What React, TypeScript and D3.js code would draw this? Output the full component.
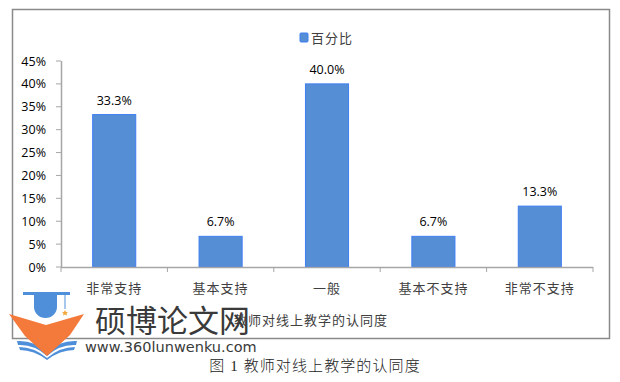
import React from "react";
import * as d3 from "d3";

const categories = ["非常支持", "基本支持", "一般", "基本不支持", "非常不支持"];
const values = [0.333, 0.067, 0.4, 0.067, 0.133];
const seriesName = "百分比";
const yTicks = [0, 0.05, 0.1, 0.15, 0.2, 0.25, 0.3, 0.35, 0.4, 0.45];
const axisTitle = "教师对线上教学的认同度";
const caption = "图 1 教师对线上教学的认同度";
const watermark = "硕博论文网";
const watermarkUrl = "www.360lunwenku.com";

const W = 620;
const H = 382;
const latin = "'Open Sans', 'Noto Sans', 'Noto Sans CJK SC', sans-serif";
const cjk = "'Noto Sans CJK SC', sans-serif";

export default function App() {
  const x = d3.scaleBand<string>().domain(categories).range([61, 593]).padding(0);
  const y = d3.scaleLinear().domain([0, 0.45]).range([267, 61]);
  const fmt = d3.format(".0%");
  const fmt1 = d3.format(".1%");
  const barW = x.bandwidth() * 0.405;
  const boundaries = categories.map((c) => x(c) as number).concat([593]);

  return (
    <svg width={W} height={H} style={{ position: "absolute", left: 0, top: 0, background: "#fff" }}>
      <rect x={12.5} y={9.5} width={597} height={329} fill="#fff" stroke="#8a8a8a" strokeWidth={1.5} />
      {/* legend */}
      <rect x={300} y={33} width={8} height={9} fill="#558ed5" stroke="#3f7ef2" strokeWidth={1} rx={1} />
      <text x={311} y={42.5} fontFamily={cjk} fontSize={13} fill="#404040" letterSpacing={1}>{seriesName}</text>
      {/* y axis */}
      <line x1={61.5} x2={61.5} y1={61} y2={267} stroke="#a6a6a6" strokeWidth={1.5} />
      {yTicks.map((t) => (
        <g key={t}>
          <line x1={56} x2={61} y1={y(t)} y2={y(t)} stroke="#a6a6a6" strokeWidth={1} />
          <text x={46} y={y(t) + 4.5} textAnchor="end" fontFamily={latin} fontSize={12.5} fill="#000">
            {fmt(t)}
          </text>
        </g>
      ))}
      {/* bars */}
      {categories.map((c, i) => {
        const cx = (x(c) as number) + x.bandwidth() / 2;
        return (
          <g key={c}>
            <rect
              x={cx - barW / 2}
              y={y(values[i])}
              width={barW}
              height={267 - y(values[i])}
              fill="#558ed5"
              stroke="#3f7ef2"
              strokeWidth={1}
            />
            <text x={cx} y={y(values[i]) - 10} textAnchor="middle" fontFamily={latin} fontSize={12.5} fill="#000">
              {fmt1(values[i])}
            </text>
            <text x={cx} y={293} textAnchor="middle" fontFamily={cjk} fontSize={13} fill="#404040" letterSpacing={1}>
              {c}
            </text>
          </g>
        );
      })}
      {/* x axis */}
      <line x1={61} x2={593} y1={267.5} y2={267.5} stroke="#a6a6a6" strokeWidth={1.5} />
      {boundaries.map((b, i) => (
        <line key={i} x1={b} x2={b} y1={267} y2={272} stroke="#a6a6a6" strokeWidth={1} />
      ))}
      <text x={311} y={325} textAnchor="middle" fontFamily={cjk} fontSize={13} fill="#404040" letterSpacing={1}>
        {axisTitle}
      </text>
      {/* caption */}
      <text x={315} y={371} textAnchor="middle" fontFamily="'Liberation Serif', 'Noto Sans CJK SC', serif" fontSize={15} fontWeight={300} fill="#222" letterSpacing={1.1}>
        {caption}
      </text>
      {/* watermark */}
      <g>
        <path d="M17,341 Q34,340 47,352 L47,356 Q34,344 18,345 Z" fill="#4f8fd9" />
        <path d="M77,341 Q60,340 47,352 L47,356 Q60,344 76,345 Z" fill="#4f8fd9" />
        <path d="M19,347 Q34,347 47,358 L47,360 Q34,350 20,350 Z" fill="#4f8fd9" />
        <path d="M75,347 Q60,347 47,358 L47,360 Q60,350 74,350 Z" fill="#4f8fd9" />
        <path d="M23,292 L70,292 L70,295 L23,295 Z" fill="#4f8fd9" />
        <path d="M34,295 L57,295 L57,307 A11.5,11 0 0 1 34,307 Z" fill="#4f8fd9" />
        <line x1={65} y1={295} x2={65} y2={309} stroke="#4f8fd9" strokeWidth={1} />
        <path d="M65,310 L66,312 L68,312.3 L66.5,313.6 L67,315.6 L65,314.6 L63,315.6 L63.5,313.6 L62,312.3 L64,312 Z" fill="#f2a73b" />
        <path d="M9,314 L46,325 L84,314 L70,335 L47,356 L25,336 Z" fill="#f47a3c" />
        <text x={95} y={332} fontFamily={cjk} fontSize={31} fill="#3a3a3a">{watermark}</text>
        <text x={85} y={352} fontFamily="'DejaVu Sans', sans-serif" fontSize={14.5} fill="#3a3a3a">{watermarkUrl}</text>
      </g>
    </svg>
  );
}
